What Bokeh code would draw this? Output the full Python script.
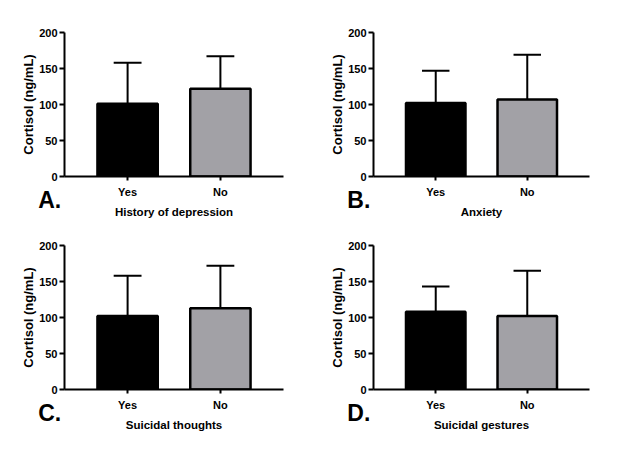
from bokeh.plotting import figure
from bokeh.layouts import gridplot
from bokeh.models import Range1d, FixedTicker, Label
from bokeh.embed import file_html
from bokeh.resources import INLINE

categories = ["Yes", "No"]
bar_colors = ["#000000", "#a2a1a6"]
panel_letters = ["A.", "B.", "C.", "D."]
panel_titles = ["History of depression", "Anxiety", "Suicidal thoughts", "Suicidal gestures"]
y_label = "Cortisol (ng/mL)"
y_ticks = [0, 50, 100, 150, 200]

# mean cortisol per group and upper error (SD)
means_A = [101, 122]
sd_A = [57, 45]
means_B = [102, 107]
sd_B = [45, 62]
means_C = [102, 113]
sd_C = [56, 59]
means_D = [108, 102]
sd_D = [35, 63]

all_means = [means_A, means_B, means_C, means_D]
all_sd = [sd_A, sd_B, sd_C, sd_D]

FONT = "Liberation Sans"


def make_panel(i, frame_w, left_border, top_border, bottom_border, right_border):
    means = all_means[i]
    sds = all_sd[i]
    xs = list(range(len(categories)))
    p = figure(frame_width=frame_w, frame_height=144,
               x_range=Range1d(-0.68, 1.68), y_range=Range1d(0, 200),
               output_backend="svg", toolbar_location=None,
               min_border_left=left_border, min_border_right=right_border,
               min_border_top=top_border, min_border_bottom=bottom_border,
               background_fill_color="white", border_fill_color="white")
    p.outline_line_color = None
    p.xgrid.visible = False
    p.ygrid.visible = False

    p.vbar(x=xs, top=means, bottom=0, width=0.65, fill_color=bar_colors,
           line_color="black", line_width=2.5)
    tops = [m + s for m, s in zip(means, sds)]
    p.segment(x0=xs, y0=means, x1=xs, y1=tops, line_color="black", line_width=2)
    p.segment(x0=[x - 0.15 for x in xs], y0=tops, x1=[x + 0.15 for x in xs], y1=tops,
              line_color="black", line_width=2)

    for ax in (p.xaxis[0], p.yaxis[0]):
        ax.axis_line_width = 2
        ax.axis_line_color = "black"
        ax.major_tick_line_width = 2
        ax.major_tick_in = 0
        ax.minor_tick_line_color = None
        ax.major_label_text_font = FONT
        ax.major_label_text_font_style = "bold"
        ax.major_label_text_font_size = "11px"
        ax.major_label_text_color = "black"
        ax.axis_label_text_font = FONT
        ax.axis_label_text_font_style = "bold"
        ax.axis_label_text_color = "black"

    p.xaxis.ticker = FixedTicker(ticks=xs)
    p.xaxis.major_label_overrides = {x: c for x, c in zip(xs, categories)}
    p.xaxis.major_tick_out = 4
    p.xaxis.major_label_standoff = 5
    p.xaxis.axis_label = panel_titles[i]
    p.xaxis.axis_label_standoff = 5
    p.xaxis.axis_label_text_font_size = "11.5px"

    p.yaxis.ticker = FixedTicker(ticks=y_ticks)
    p.yaxis.major_tick_out = 5
    p.yaxis.major_label_standoff = 2
    p.yaxis.axis_label = y_label
    p.yaxis.axis_label_standoff = 0
    p.yaxis.axis_label_text_font_size = "13px"

    # panel letter: kept in a side panel so it is not clipped to the plot frame
    p.add_layout(Label(x=-0.84, y=-33, text=panel_letters[i], text_font=FONT,
                       text_font_style="bold", text_font_size="23px",
                       text_align="center", text_baseline="middle",
                       text_color="black"), "right")
    return p


pA = make_panel(0, 219, 64, 32, 48, 34)
pB = make_panel(1, 216, 56, 32, 48, 38)
pC = make_panel(2, 219, 64, 20, 55, 34)
pD = make_panel(3, 216, 56, 21, 54, 38)

grid = gridplot([[pA, pB], [pC, pD]], toolbar_location=None)

open("out.html", "w").write(file_html(grid, INLINE))
